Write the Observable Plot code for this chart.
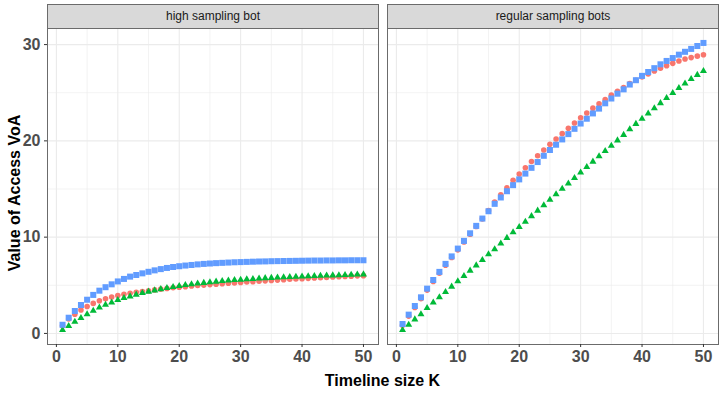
<!DOCTYPE html>
<html>
<head>
<meta charset="utf-8">
<script src="https://cdn.jsdelivr.net/npm/d3@7"></script>
<script src="https://cdn.jsdelivr.net/npm/@observablehq/plot@0.6"></script>
<style>
  body { margin: 0; background: #fff; }
  #chart { position: relative; width: 726px; height: 402px; font-family: "Liberation Sans", Arial, Helvetica, sans-serif; }
  .panel { position: absolute; top: 0; }
  .strip { position: absolute; top: 4px; height: 25px; box-sizing: border-box; background: #D9D9D9; border: 1px solid #6b6b6b;
           font-size: 12px; line-height: 23px; text-align: center; color: #1A1A1A; }
  .xtitle { position: absolute; left: 47px; width: 671px; top: 371px; text-align: center; font-size: 16px; font-weight: bold; color: #000; line-height: 20px; }
  .ytitle { position: absolute; left: -135px; top: 183px; width: 300px; height: 20px; line-height: 20px; text-align: center;
            font-size: 16px; font-weight: bold; color: #000; transform: rotate(-90deg); }
</style>
</head>
<body>
<div id="chart"></div>
<script>
// Timeline size K
const ks = [1,2,3,4,5,6,7,8,9,10,11,12,13,14,15,16,17,18,19,20,21,22,23,24,25,
            26,27,28,29,30,31,32,33,34,35,36,37,38,39,40,41,42,43,44,45,46,47,48,49,50];

// Panel titles
const panels = ["high sampling bot", "regular sampling bots"];

// Value of Access, high sampling bot
const highCircle = [0.8,1.5,2.0,2.43,2.8,3.12,3.4,3.6,3.78,3.93,4.06,4.17,4.27,4.36,4.44,4.52,4.6,4.67,4.74,4.8,
                    4.86,4.92,4.97,5.02,5.07,5.12,5.17,5.21,5.25,5.3,5.34,5.38,5.42,5.46,5.5,5.54,5.58,5.62,5.65,5.69,
                    5.72,5.76,5.79,5.82,5.86,5.89,5.92,5.95,5.98,6.0];
const highTriangle = [0.35,0.77,1.22,1.6,2.0,2.36,2.7,2.98,3.22,3.47,3.68,3.85,4.03,4.2,4.34,4.47,4.6,4.72,4.83,4.93,
                      5.02,5.1,5.18,5.25,5.32,5.38,5.44,5.49,5.54,5.58,5.62,5.66,5.7,5.74,5.77,5.8,5.83,5.86,5.89,5.92,
                      5.94,5.97,5.99,6.01,6.03,6.05,6.07,6.09,6.11,6.13];
const highSquare = [0.9,1.63,2.33,2.95,3.5,4.0,4.44,4.8,5.1,5.4,5.66,5.9,6.07,6.24,6.4,6.55,6.68,6.8,6.9,6.98,
                    7.05,7.11,7.17,7.22,7.26,7.3,7.33,7.36,7.39,7.41,7.43,7.45,7.47,7.48,7.5,7.51,7.52,7.53,7.54,7.55,
                    7.56,7.57,7.57,7.58,7.58,7.59,7.59,7.6,7.6,7.6];

// Value of Access, regular sampling bots
const regCircle = [0.85,1.8,2.7,3.6,4.5,5.4,6.25,7.08,7.88,8.68,9.5,10.3,11.1,11.9,12.75,13.65,14.4,15.12,15.9,16.55,
                   17.2,17.85,18.45,19.05,19.65,20.2,20.75,21.3,21.85,22.4,22.9,23.4,23.85,24.3,24.75,25.15,25.55,25.95,26.3,26.65,
                   26.95,27.25,27.55,27.8,28.05,28.3,28.5,28.65,28.8,28.95];
const regTriangle = [0.35,0.9,1.46,2.0,2.64,3.22,3.75,4.3,4.86,5.41,5.97,6.52,7.07,7.63,8.22,8.74,9.33,9.92,10.5,11.05,
                     11.6,12.18,12.75,13.32,13.88,14.45,15.02,15.58,16.15,16.72,17.28,17.84,18.4,18.95,19.5,20.05,20.62,21.2,21.76,22.3,
                     22.85,23.38,23.92,24.45,24.97,25.48,25.95,26.42,26.85,27.25];
const regSquare = [0.98,1.95,2.85,3.75,4.65,5.55,6.39,7.22,8.0,8.81,9.61,10.4,11.17,11.93,12.69,13.46,14.12,14.77,15.4,16.0,
                   16.6,17.2,17.8,18.45,19.05,19.6,20.15,20.7,21.25,21.8,22.3,22.85,23.35,23.9,24.4,24.9,25.35,25.85,26.3,26.75,
                   27.15,27.55,27.95,28.3,28.6,28.95,29.25,29.55,29.85,30.17];

// Axis ticks
const xMajor = [0, 10, 20, 30, 40, 50];
const xMinor = [5, 15, 25, 35, 45];
const yMajor = [0, 10, 20, 30];
const yMinor = [5, 15, 25];

// Series styling: circle / triangle / square
const seriesStyle = [
  {symbol: "circle",   fill: "#F8766D", r: 2.8},
  {symbol: "triangle", fill: "#00BA38", r: 2.6},
  {symbol: "square",   fill: "#619CFF", r: 3.4}
];

function rows(values) {
  return ks.map((k, i) => ({k, v: values[i]}));
}

const panelSeries = [
  [rows(highCircle), rows(highTriangle), rows(highSquare)],
  [rows(regCircle), rows(regTriangle), rows(regSquare)]
];

const font = '"Liberation Sans", Arial, Helvetica, sans-serif';

function panelPlot(seriesRows, opts) {
  const marks = [
    Plot.gridX(xMinor, {stroke: "#EBEBEB", strokeOpacity: 1, strokeWidth: 0.6}),
    Plot.gridY(yMinor, {stroke: "#EBEBEB", strokeOpacity: 1, strokeWidth: 0.6}),
    Plot.gridX(xMajor, {stroke: "#EBEBEB", strokeOpacity: 1, strokeWidth: 1.1}),
    Plot.gridY(yMajor, {stroke: "#EBEBEB", strokeOpacity: 1, strokeWidth: 1.1}),
    ...seriesRows.map((data, i) => Plot.dot(data, {
      x: "k", y: "v",
      symbol: () => seriesStyle[i].symbol,
      fill: seriesStyle[i].fill, stroke: "none", r: seriesStyle[i].r
    })),
    Plot.frame({stroke: "#6b6b6b", strokeWidth: 1}),
    Plot.axisX(xMajor, {tickSize: 3, tickPadding: 3, stroke: "#333", fill: "#4D4D4D", label: null})
  ];
  if (opts.yAxis) {
    marks.push(Plot.axisY(yMajor, {tickSize: 3, tickPadding: 4, stroke: "#333", fill: "#4D4D4D", label: null}));
  }
  return Plot.plot({
    width: opts.width,
    height: 368,
    marginLeft: opts.marginLeft,
    marginRight: opts.marginRight,
    marginTop: 28,
    marginBottom: 24,
    x: {domain: [-1.45, 52.45]},
    y: {domain: [-1.15, 31.67], axis: opts.yAxis ? undefined : null},
    symbol: {type: "identity"},
    style: {fontFamily: font, fontSize: "16px", fontWeight: "bold", background: "transparent", overflow: "visible"},
    marks
  });
}

const chart = document.getElementById("chart");

const layout = [
  {left: 0,   width: 383, marginLeft: 47, marginRight: 5, yAxis: true,  stripLeft: 47,  stripWidth: 332},
  {left: 383, width: 343, marginLeft: 4,  marginRight: 8, yAxis: false, stripLeft: 387, stripWidth: 332}
];

layout.forEach((L, p) => {
  const wrap = document.createElement("div");
  wrap.className = "panel";
  wrap.style.left = L.left + "px";
  wrap.appendChild(panelPlot(panelSeries[p], L));
  chart.appendChild(wrap);

  const strip = document.createElement("div");
  strip.className = "strip";
  strip.style.left = L.stripLeft + "px";
  strip.style.width = L.stripWidth + "px";
  strip.textContent = panels[p];
  chart.appendChild(strip);
});

const xt = document.createElement("div");
xt.className = "xtitle";
xt.textContent = "Timeline size K";
chart.appendChild(xt);

const yt = document.createElement("div");
yt.className = "ytitle";
yt.textContent = "Value of Access VoA";
chart.appendChild(yt);
</script>
</body>
</html>
